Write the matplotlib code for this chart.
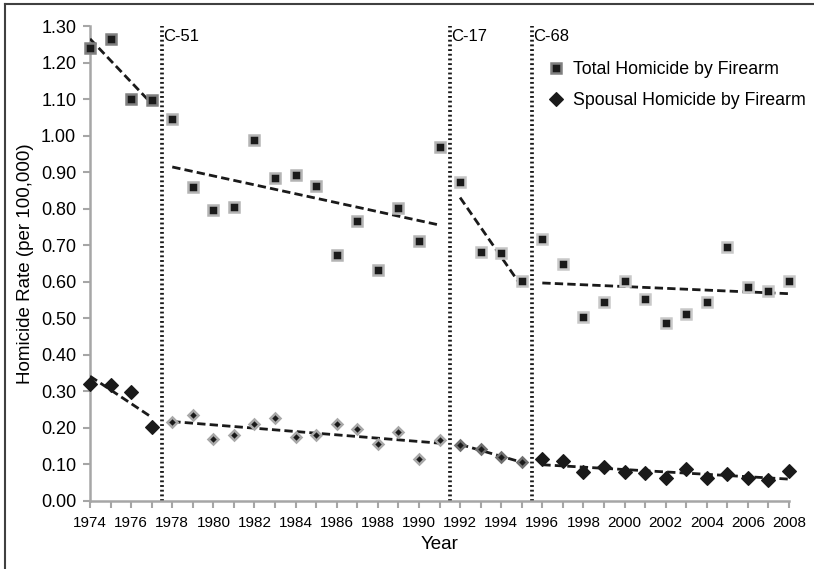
import numpy as np
import matplotlib.pyplot as plt
from matplotlib.lines import Line2D

plt.rcParams['font.family'] = ['Liberation Sans', 'DejaVu Sans']

years = list(range(1974, 2009))
total = [1.241, 1.264, 1.101, 1.098,
         1.045, 0.858, 0.797, 0.804, 0.989, 0.885, 0.892, 0.861, 0.672, 0.766,
         0.633, 0.802, 0.710, 0.968,
         0.872, 0.681, 0.678, 0.602,
         0.718, 0.648, 0.502, 0.544, 0.601, 0.553, 0.486, 0.511, 0.544, 0.694,
         0.585, 0.573, 0.602]
spousal = [0.321, 0.317, 0.299, 0.202,
           0.216, 0.234, 0.169, 0.180, 0.209, 0.227, 0.175, 0.180, 0.210, 0.197,
           0.156, 0.188, 0.114, 0.166,
           0.153, 0.141, 0.119, 0.106,
           0.113, 0.108, 0.078, 0.092, 0.079, 0.075, 0.061, 0.086, 0.061, 0.073,
           0.061, 0.057, 0.081]

# periods between firearm laws
segments = [(1974, 1977), (1978, 1991), (1992, 1995), (1996, 2008)]
laws = [1977.5, 1991.5, 1995.5]
law_labels = ['C-51', 'C-17', 'C-68']

# marker edge shades per period
total_edge = ['#808080', '#b4b4b4', '#c4c4c4', '#c8c8c8']
spousal_edge = ['#1a1a1a', '#a8a8a8', '#707070', '#1a1a1a']
spousal_size = [7, 5.5, 5.5, 7]

fig = plt.figure(figsize=(8.14, 5.69), dpi=100)
ax = fig.add_axes([0.1106, 0.12, 0.8587, 0.8343])

yrs = np.array(years)
tot = np.array(total)
spo = np.array(spousal)

for i, (a, b) in enumerate(segments):
    m = (yrs >= a) & (yrs <= b)
    ax.plot(yrs[m], tot[m], 's', ms=6.5, mfc='#1a1a1a', mec=total_edge[i],
            mew=1.8, clip_on=False, zorder=4)
    ax.plot(yrs[m], spo[m], 'D', ms=spousal_size[i], mfc='#1a1a1a',
            mec=spousal_edge[i], mew=1.8 if i in (1, 2) else 0.8,
            clip_on=False, zorder=4)
    # linear trend for each period
    for vals in (tot, spo):
        k, c = np.polyfit(yrs[m], vals[m], 1)
        ax.plot([a, b], [k * a + c, k * b + c], color='#1a1a1a', lw=2,
                ls=(0, (3, 1.5)), zorder=3)

for x, lab in zip(laws, law_labels):
    ax.plot([x, x], [0, 1.30], color='#1a1a1a', lw=2.7, ls=(0, (0.5, 0.75)),
            zorder=2)
    ax.text(x + 0.05, 1.27, lab, fontsize=12, va='center', ha='left')

ax.set_xlim(1974, 2008)
ax.set_ylim(0, 1.30)
ax.set_xticks(range(1974, 2009, 2))
ax.set_xticks(range(1974, 2009), minor=True)
ax.set_yticks(np.arange(0, 1.31, 0.1))
ax.set_yticklabels(['%.2f' % v for v in np.arange(0, 1.31, 0.1)])

for s in ('top', 'right'):
    ax.spines[s].set_visible(False)
for s in ('left', 'bottom'):
    ax.spines[s].set_color('#a6a6a6')
    ax.spines[s].set_linewidth(1.8)

ax.tick_params(axis='x', which='both', direction='out', length=5, width=1.5,
               color='#a6a6a6', labelsize=11, pad=6)
ax.tick_params(axis='y', direction='out', length=5, width=1.5,
               color='#a6a6a6', labelsize=13, pad=5)

ax.set_xlabel('Year', fontsize=13.5, labelpad=4)
ax.set_ylabel('Homicide Rate (per 100,000)', fontsize=13.5, labelpad=5)

handles = [
    Line2D([], [], ls='', marker='s', ms=6.5, mfc='#1a1a1a', mec='#808080', mew=1.8),
    Line2D([], [], ls='', marker='D', ms=7, mfc='#1a1a1a', mec='#1a1a1a', mew=0.8),
]
ax.legend(handles, ['Total Homicide by Firearm', 'Spousal Homicide by Firearm'],
          loc='upper left', bbox_to_anchor=(0.628, 0.96), frameon=False,
          fontsize=12.8, handletextpad=0.35, labelspacing=0.8, handlelength=1.2)

# outer frame (only left and top visible in the crop)
fig.add_artist(Line2D([5 / 814, 5 / 814], [0, 1 - 4 / 569],
                      transform=fig.transFigure, color='#404040', lw=1.5))
fig.add_artist(Line2D([5 / 814, 1], [1 - 4 / 569, 1 - 4 / 569],
                      transform=fig.transFigure, color='#404040', lw=1.5))

fig.savefig('out.png', dpi=100)
